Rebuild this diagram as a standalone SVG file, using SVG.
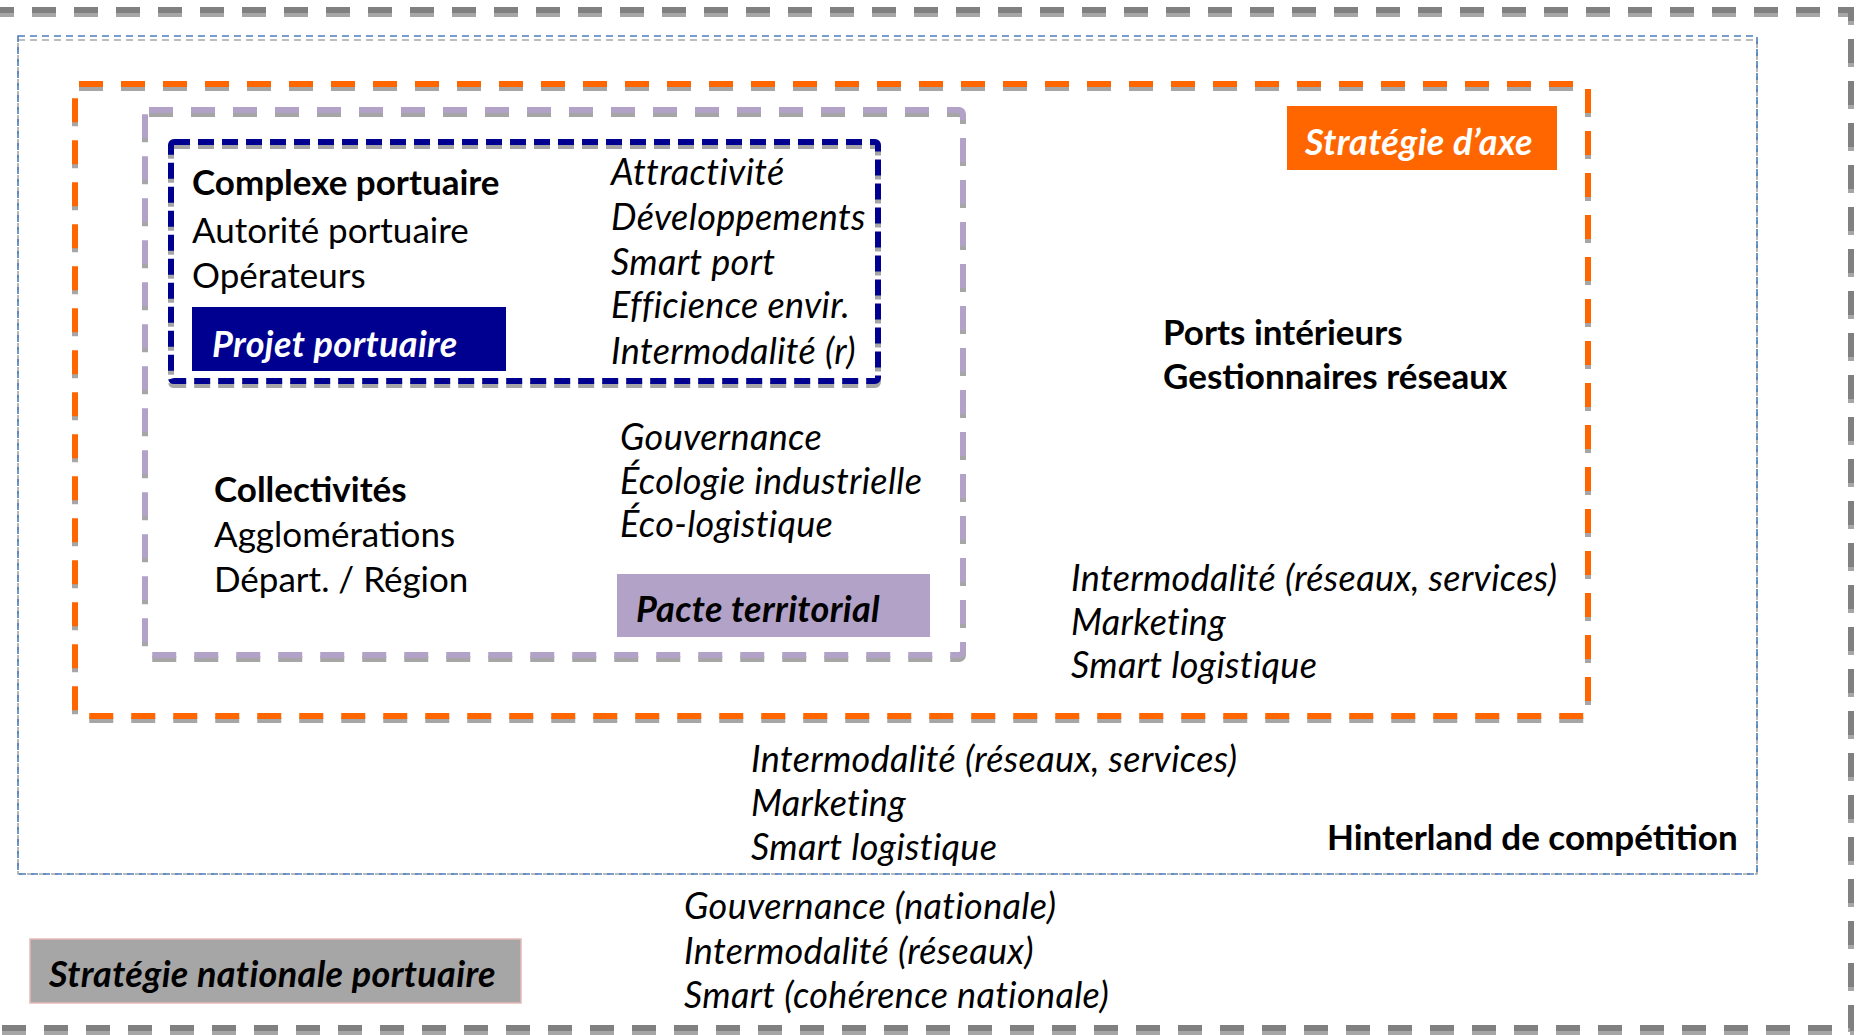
<svg xmlns="http://www.w3.org/2000/svg" width="1860" height="1035" viewBox="0 0 1860 1035">
<style>
  text { font-family: Lato, "Liberation Sans", sans-serif; font-size: 35px; fill: #000; }
  .b { font-weight: bold; }
  .i { font-style: italic; font-size: 36px; letter-spacing: 0.35px; }
  .w { fill: #fff; }
  .sh { fill: none; stroke: #a6a6a6; }
  .gray { fill: none; stroke: #808080; stroke-width: 6; stroke-dasharray: 24 18; }
  .blue { fill: none; stroke: #4a7ebb; stroke-width: 1.6; stroke-dasharray: 7 5; }
  .orange { fill: none; stroke: #ff6600; stroke-width: 6; stroke-dasharray: 24 18; }
  .purple { fill: none; stroke: #b3a2c7; stroke-width: 6; stroke-dasharray: 24 18; }
  .navy { fill: none; stroke: #000090; stroke-width: 6; stroke-dasharray: 16 8; }
</style>
<rect width="1860" height="1035" fill="#fff"/>

<g id="national">
  <rect class="sh" x="-10" y="14" width="1861" height="1018" stroke-width="6" stroke-dasharray="24 18"/>
  <rect class="gray" x="-10" y="10" width="1861" height="1018"/>
  <rect x="30" y="939" width="491" height="64" fill="#a6a6a6" stroke="#e6b9b8" stroke-width="1.5"/>
  <text class="b i" x="49" y="987">Stratégie nationale portuaire</text>
  <text class="i" x="684" y="919">Gouvernance (nationale)</text>
  <text class="i" x="684" y="964">Intermodalité (réseaux)</text>
  <text class="i" x="684" y="1008">Smart (cohérence nationale)</text>
</g>

<g id="hinterland">
  <rect class="sh" x="18" y="40" width="1739" height="834" stroke-width="1.6" stroke-dasharray="7 5"/>
  <rect class="blue" x="18" y="36" width="1739" height="838"/>
  <text class="i" x="751" y="772">Intermodalité (réseaux, services)</text>
  <text class="i" x="751" y="816">Marketing</text>
  <text class="i" x="751" y="860">Smart logistique</text>
  <text class="b" x="1327" y="850">Hinterland de compétition</text>
</g>

<g id="axe">
  <rect class="sh" x="75" y="88" width="1513" height="632" rx="4" stroke-width="6" stroke-dasharray="24 18"/>
  <rect class="orange" x="75" y="84" width="1513" height="632" rx="4"/>
  <rect x="1287" y="106" width="270" height="64" fill="#ff6600"/>
  <text class="b i w" x="1305" y="155">Stratégie d’axe</text>
  <text class="b" x="1163" y="345">Ports intérieurs</text>
  <text class="b" x="1163" y="389">Gestionnaires réseaux</text>
  <text class="i" x="1071" y="591">Intermodalité (réseaux, services)</text>
  <text class="i" x="1071" y="635">Marketing</text>
  <text class="i" x="1071" y="678">Smart logistique</text>
</g>

<g id="territorial">
  <rect class="sh" x="145" y="114" width="818" height="545" rx="4" stroke-width="6" stroke-dasharray="24 18"/>
  <rect class="purple" x="145" y="110" width="818" height="545" rx="4"/>
  <text class="b" x="214" y="502">Collectivités</text>
  <text x="214" y="547">Agglomérations</text>
  <text x="214" y="592">Départ. / Région</text>
  <text class="i" x="620" y="450">Gouvernance</text>
  <text class="i" x="620" y="494">Écologie industrielle</text>
  <text class="i" x="620" y="537">Éco-logistique</text>
  <rect x="617" y="574" width="313" height="63" fill="#b3a2c7"/>
  <text class="b i" x="636" y="622">Pacte territorial</text>
</g>

<g id="portuaire">
  <rect class="sh" x="171" y="146" width="707" height="239" rx="3" stroke-width="6" stroke-dasharray="16 8"/>
  <rect class="navy" x="171" y="142" width="707" height="239" rx="3"/>
  <text class="b" x="192" y="195">Complexe portuaire</text>
  <text x="192" y="243">Autorité portuaire</text>
  <text x="192" y="288">Opérateurs</text>
  <rect x="192" y="307" width="314" height="64" fill="#000090"/>
  <text class="b i w" x="212" y="357">Projet portuaire</text>
  <text class="i" x="611" y="185">Attractivité</text>
  <text class="i" x="611" y="230">Développements</text>
  <text class="i" x="611" y="275">Smart port</text>
  <text class="i" x="611" y="318">Efficience envir.</text>
  <text class="i" x="611" y="364">Intermodalité (r)</text>
</g>

<g id="connectors"></g>
</svg>
